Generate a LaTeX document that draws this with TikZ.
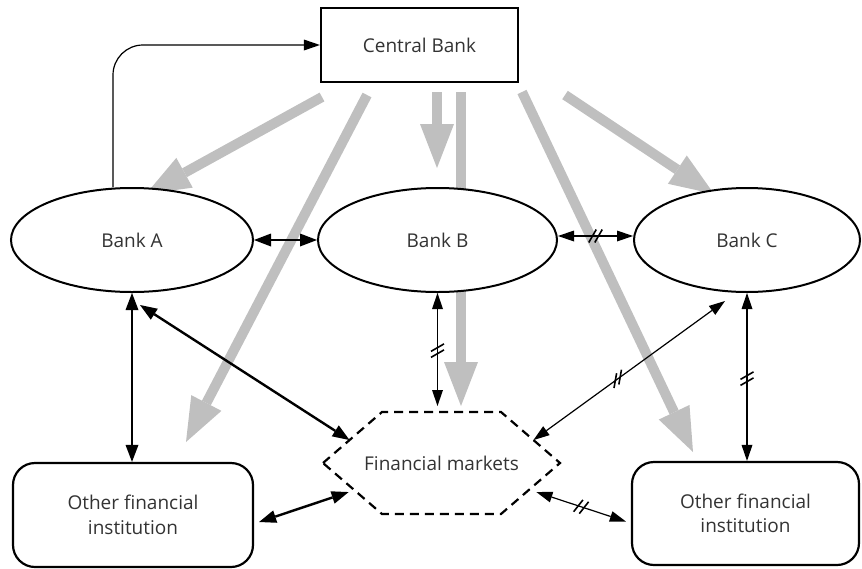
\documentclass[tikz,border=0pt]{standalone}
\usepackage{fontspec}
\setmainfont{Open Sans}
\usetikzlibrary{arrows.meta,calc,decorations.markings,shapes.geometric}
\pgfdeclarelayer{bg}
\pgfsetlayers{bg,main}
\begin{document}
\begin{tikzpicture}[x=1pt,y=1pt,
  txt/.style={font=\fontsize{19}{24.5}\selectfont, text=black!80},
  bank/.style={ellipse, draw, line width=2pt, fill=white, txt, minimum height=104, inner sep=0pt},
  inst/.style={rectangle, rounded corners=22pt, draw, line width=2.2pt, fill=white, txt, align=center, inner sep=0pt},
  grayarr/.style={draw=black!25, line width=10pt, -{Triangle[length=44pt,width=34pt,line width=0pt]}},
  bigarr/.style={line width=2.4pt, {Triangle[length=17pt,width=13pt,line width=0pt]}-{Triangle[length=17pt,width=13pt,line width=0pt]}},
  smallarr/.style={line width=1.2pt, {Triangle[length=16pt,width=11pt,line width=0pt]}-{Triangle[length=16pt,width=11pt,line width=0pt]}},
  onearr/.style={line width=1.2pt, -{Triangle[length=16pt,width=11pt,line width=0pt]}},
  brk/.style 2 args={postaction={decorate}, decoration={markings, mark=at position #1 with {\draw[-,line width=1.6pt] (-3,0) ++(#2+180:7.5) -- ++(#2:15) (3,0) ++(#2+180:7.5) -- ++(#2:15);}}}
]
\useasboundingbox (0,0) rectangle (862,-568);

% nodes
\node[draw, line width=2.2pt, minimum width=197, minimum height=74, txt, inner sep=0pt] (cb) at (419.5,-45) {Central Bank};
\node[bank, minimum width=242] (bA) at (132,-240) {Bank A};
\node[bank, minimum width=239] (bB) at (437.5,-240) {Bank B};
\node[bank, minimum width=226] (bC) at (747,-240) {Bank C};
\node[inst, minimum width=240, minimum height=104] (lI) at (133,-515) {Other financial\\institution};
\node[inst, minimum width=227, minimum height=103] (rI) at (745.5,-513.5) {Other financial\\institution};

% hexagon (financial markets)
\coordinate (hl) at (323,-463);
\coordinate (htl) at (382,-412);
\coordinate (htr) at (501,-412);
\coordinate (hr) at (560,-463);
\coordinate (hbr) at (501,-514);
\coordinate (hbl) at (382,-514);
\draw[line width=2.2pt, dash pattern=on 9pt off 6pt] (hl)--(htl)--(htr)--(hr)--(hbr)--(hbl)--cycle;
\node[txt] (fm) at (441.5,-463) {Financial markets};

% gray arrows from central bank
\coordinate (g1s) at (322,-97);  \coordinate (g1e) at (146,-194);
\coordinate (g2s) at (367,-95);  \coordinate (g2e) at (186,-442);
\coordinate (g3s) at (437,-92);  \coordinate (g3e) at (437,-168);
\coordinate (g4s) at (461,-92);  \coordinate (g4e) at (461,-406);
\coordinate (g5s) at (522,-92);  \coordinate (g5e) at (693,-452);
\coordinate (g6s) at (565,-95);  \coordinate (g6e) at (714,-194);
\begin{pgfonlayer}{bg}
\draw[grayarr] (g1s) -- (g1e);
\draw[grayarr] (g2s) -- (g2e);
\draw[grayarr] (g3s) -- (g3e);
\draw[grayarr] (g4s) -- (g4e);
\draw[grayarr] (g5s) -- (g5e);
\draw[grayarr] (g6s) -- (g6e);
\end{pgfonlayer}

% feedback Bank A -> Central Bank
\coordinate (ax) at (113,0);
\draw[onearr, rounded corners=30pt] (bA.north -| ax) |- (cb.west);

% black connectors
\coordinate (bBend) at ($(bB.south |- htl)+(0,6)$);
\coordinate (hulm) at ($(hl)!0.45!(htl)$);
\coordinate (hurm) at ($(hr)!0.45!(htr)$);
\coordinate (hllm) at ($(hl)!0.57!(hbl)+(-8,0)$);
\coordinate (hlrm) at ($(hr)!0.57!(hbr)+(10,0)$);

\draw[bigarr] (bA.east) -- (bB.west);
\draw[smallarr, brk={0.5}{60}] ([yshift=4]bB.east) -- ([yshift=4]bC.west);
\draw[smallarr, brk={0.51}{120}] (bB.south) -- (bBend);
\draw[bigarr] (bA.south) -- (bA.south |- lI.north);
\draw[smallarr, brk={0.51}{120}] (bC.south) -- (bC.south |- rI.north);
\draw[bigarr] ([shift={(8,-12)}]bA.south) -- (hulm);
\draw[smallarr, brk={0.56}{44}] ([shift={(-22,-8)}]bC.south) -- (hurm);
\draw[bigarr] ([shift={(5,-7)}]lI.east) -- (hllm);
\draw[smallarr, brk={0.5}{70}] (hlrm) -- ([shift={(-5,-8)}]rI.west);
\end{tikzpicture}
\end{document}
